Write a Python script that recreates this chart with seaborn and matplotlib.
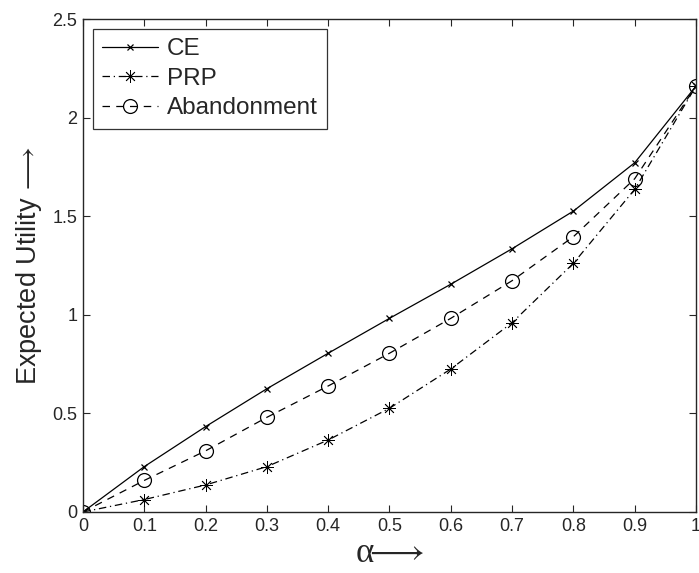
import numpy as np
import pandas as pd
import matplotlib
matplotlib.use("Agg")
import matplotlib.pyplot as plt
import seaborn as sns

alpha = [0.0, 0.1, 0.2, 0.3, 0.4, 0.5, 0.6, 0.7, 0.8, 0.9, 1.0]
ce = [0.0, 0.23, 0.433, 0.625, 0.805, 0.982, 1.155, 1.335, 1.526, 1.771, 2.16]
prp = [0.0, 0.063, 0.137, 0.23, 0.365, 0.526, 0.725, 0.96, 1.261, 1.636, 2.16]
abandonment = [0.0, 0.16, 0.31, 0.48, 0.639, 0.805, 0.982, 1.173, 1.396, 1.69, 2.16]

df = pd.DataFrame({"alpha": alpha, "CE": ce, "PRP": prp, "Abandonment": abandonment})

sns.set_style("ticks")
plt.rcParams["font.family"] = ["Liberation Sans", "DejaVu Sans"]
plt.rcParams["mathtext.fontset"] = "stix"
plt.rcParams["xtick.direction"] = "in"
plt.rcParams["ytick.direction"] = "in"

fig = plt.figure(figsize=(6.99, 5.73), dpi=100)
ax = fig.add_axes([0.1187, 0.1065, 0.8770, 0.8603])

styles = {
    "CE": dict(linestyle="-", marker="x", markersize=5, markeredgewidth=0.9),
    "PRP": dict(linestyle=(0, (6, 3, 1, 3)), marker=(8, 2, 0), markersize=9, markeredgewidth=0.6),
    "Abandonment": dict(linestyle=(0, (6, 5)), marker="o", markersize=10, markerfacecolor="none",
                        markeredgewidth=0.9),
}
for name in ["CE", "PRP", "Abandonment"]:
    sns.lineplot(data=df, x="alpha", y=name, ax=ax, color="black", linewidth=0.9,
                 markeredgecolor="black", label=name, **styles[name])

ax.set_xlim(0, 1)
ax.set_ylim(0, 2.5)
ax.set_xticks(np.arange(0, 1.01, 0.1))
ax.set_yticks(np.arange(0, 2.51, 0.5))
ax.xaxis.set_major_formatter("{x:g}")
ax.yaxis.set_major_formatter("{x:g}")
ax.tick_params(labelsize=13, length=5, width=0.8, top=True, right=True, pad=4)
for s in ax.spines.values():
    s.set_linewidth(1.0)
    s.set_visible(True)

ax.set_xlabel(r"α$\!\!\longrightarrow$", fontsize=25, labelpad=2,
              family=["Liberation Serif", "DejaVu Serif"])
ax.set_ylabel(r"Expected Utility $\!\longrightarrow$", fontsize=19.5, labelpad=6)

leg = ax.legend(loc="upper left", fontsize=17.5, frameon=True, fancybox=False,
                edgecolor="black", handlelength=2.3, borderpad=0.4, labelspacing=0.3,
                handletextpad=0.35, borderaxespad=0.4)
leg.get_frame().set_linewidth(0.9)

fig.savefig("out.png", dpi=100)
